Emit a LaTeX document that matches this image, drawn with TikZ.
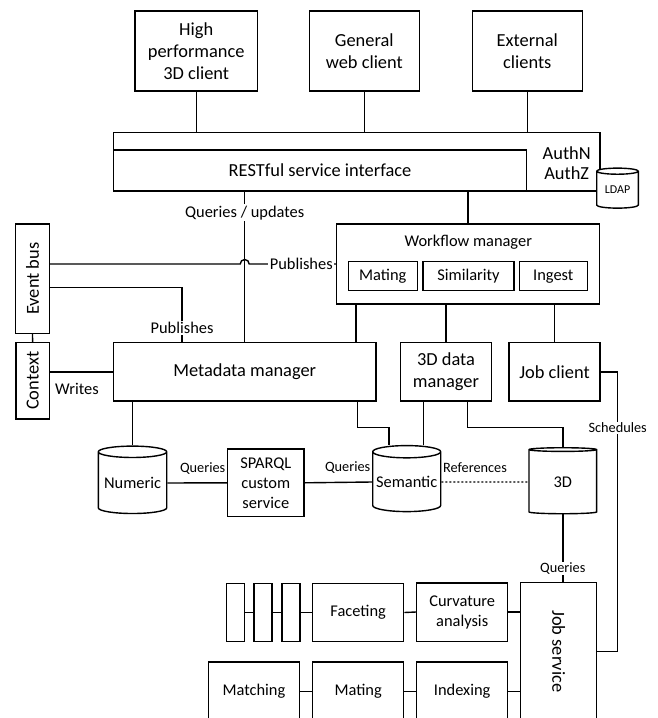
\documentclass[tikz,border=0pt]{standalone}
\usepackage{fontspec}
\setmainfont{Carlito}
\usepackage{tikz}
\usetikzlibrary{%
	calc,%
	shapes.geometric%
}

\newcommand{\sizeL}{\fontsize{18.4}{21.7}\selectfont}
\newcommand{\sizeM}{\fontsize{16.4}{20}\selectfont}
\newcommand{\sizeS}{\fontsize{14.3}{17}\selectfont}
\newcommand{\sizeXS}{\fontsize{12}{14}\selectfont}

\tikzset{
	box/.style={draw, fill=white, inner sep=0pt, align=center, font=\sizeL},
	subbox/.style={box, font=\sizeM},
	store/.style={cylinder, shape border rotate=90, draw, fill=white, inner sep=0pt, aspect=0.2, font=\sizeM},
	tag/.style={fill=white, inner sep=1.5pt, font=\sizeM},
	note/.style={inner sep=1pt, font=\sizeM},
	qtag/.style={inner sep=1pt, font=\sizeS},
}

\begin{document}
\begin{tikzpicture}[x=1pt, y=1pt, line width=1.4pt]
	\useasboundingbox (0,0) rectangle (658,-718);
	\clip (0,0) rectangle (658,-718);

	% Draw the clients
	\node[box, minimum width=122.3, minimum height=80] (hpc) at (196.2,-51) {High\\performance\\3D client};
	\node[box, minimum width=110, minimum height=80] (web) at (364.3,-51) {General\\web client};
	\node[box, minimum width=110, minimum height=80] (ext) at (527.3,-51) {External\\clients};

	% Draw the service interface with auth and LDAP
	\node[box, minimum width=486.7, minimum height=58.7] (auth) at (356.7,-161.7) {};
	\node[box, minimum width=413.3, minimum height=41] (rest) at (320,-170.5) {RESTful service interface};
	\node[align=center, font=\fontsize{18.4}{20}\selectfont] (authn) at (566.7,-163.3) {AuthN\\AuthZ};
	\node[store, font=\sizeXS, minimum width=41.6, minimum height=40, aspect=0.24] (ldap) at (617.5,-190) {LDAP};

	\foreach \c in {hpc,web,ext} {
		\draw (\c.south) -- (\c.south |- auth.north);
	}

	% Draw the workflow manager
	\node[box, font=\sizeM, minimum width=262.6, minimum height=80] (wf) at (468,-264) {};
	\node[font=\sizeM] (wftitle) at (468.3,-242.3) {Workflow manager};
	\node[subbox, minimum width=69, minimum height=29] (wfmate) at (382.8,-276.2) {Mating};
	\node[subbox, minimum width=91, minimum height=29] (wfsim) at (468.5,-276.2) {Similarity};
	\node[subbox, minimum width=68, minimum height=29] (wfingest) at (553.3,-276.2) {Ingest};

	% Draw the managers
	\node[box, minimum width=262.7, minimum height=58.3] (meta) at (244.7,-371.8) {Metadata manager};
	\node[box, minimum width=90.6, minimum height=58.3] (dm3) at (446,-371.8) {3D data\\manager};
	\node[box, minimum width=91, minimum height=58.3] (jobc) at (554.5,-371.8) {Job client};

	\draw (meta.north |- rest.south) -- node[tag, pos=0.14] {Queries / updates} (meta.north);
	\draw (wf.north |- rest.south) -- (wf.north);
	\draw ([xshift=20pt]wf.south west) -- ([xshift=20pt]wf.south west |- meta.north);
	\draw (dm3.north |- wf.south) -- (dm3.north);
	\draw (jobc.north |- wf.south) -- (jobc.north);

	% Draw the event bus and context
	\node[box, minimum width=33.6, minimum height=109.3] (evbus) at (32.5,-278.7) {\rotatebox{90}{Event bus}};
	\node[box, minimum width=33.3, minimum height=76.3] (ctx) at (32.6,-380.8) {\rotatebox{90}{Context}};
	\draw (evbus.south) -- (ctx.north);

	% Line hops over the queries line
	\coordinate (hop) at (meta.north |- wf.west);
	\draw (evbus.east |- wf.west) -- ([xshift=-4.5pt]hop) arc[start angle=180, end angle=0, radius=4.5pt]
		-- node[tag, pos=0.6] {Publishes} (wf.west);
	\draw ([yshift=-9pt]evbus.east) -| node[tag, pos=0.87] {Publishes} ([xshift=69.4pt]meta.north west);
	\draw (ctx.east |- meta.west) -- node[note, below=10pt, pos=0.43] {Writes} (meta.west);

	% Draw the stores
	\node[store, minimum width=68.4, minimum height=67.4] (num) at (132.5,-483) {Numeric};
	\node[box, font=\sizeM, minimum width=76.3, minimum height=67.7] (sparql) at (265.8,-482.8) {SPARQL\\custom\\service};
	\node[store, minimum width=68, minimum height=66] (sem) at (406.7,-482) {Semantic};
	\node[store, minimum width=67.7, minimum height=66] (db3d) at (562.8,-482) {3D};

	\draw (num.north |- meta.south) -- (num.north);
	\draw (num.east) -- node[qtag, pos=1, anchor=south east, yshift=7pt] {Queries} (sparql.west);
	\draw (sparql.east) -- node[qtag, pos=1, anchor=south east, yshift=7pt] {Queries} (sem.west);
	\draw[dash pattern=on 2pt off 2pt] (sem.east) -- node[qtag, pos=0, anchor=south west, yshift=8pt] {References} (db3d.west);
	\draw ([xshift=112.6pt]meta.south) -- ++(0,-25.7) -| ([xshift=-17.7pt]sem.north);
	\draw ([xshift=16.6pt]sem.north |- dm3.south) -- ([xshift=16.6pt]sem.north);
	\draw ([xshift=21.7pt]dm3.south) -- ++(0,-25.7) -| (db3d.north);

	% Draw the job service and its jobs
	\node[box, minimum width=76, minimum height=137.3] (jobs) at (558.7,-651.3) {\rotatebox{-90}{Job service}};
	\draw (db3d.south) -- node[qtag, fill=white, pos=0.8] {Queries} (db3d.south |- jobs.north);
	\draw (jobc.east) -- ++(17,0) |- node[qtag, fill=white, pos=0.1] {Schedules} (jobs.east);

	\foreach \n/\x in {t1/235.2, t2/263, t3/290.8} {
		\node[box, minimum width=18, minimum height=58.4] (\n) at (\x,-612.5) {};
	}
	\node[subbox, minimum width=91, minimum height=58.4] (facet) at (358.2,-612.5) {Faceting};
	\node[subbox, minimum width=91, minimum height=58.4] (curv) at (462.2,-612) {Curvature\\analysis};
	\draw (t1.east) -- (t2.west);
	\draw (t2.east) -- (t3.west);
	\draw (t3.east) -- (facet.west);
	\draw (facet.east) -- (curv.west);
	\draw (curv.east) -- (jobs.west |- curv.east);

	\node[subbox, minimum width=91.4, minimum height=59] (match) at (254,-691.5) {Matching};
	\node[subbox, minimum width=91, minimum height=59] (mating) at (358.2,-691.5) {Mating};
	\node[subbox, minimum width=91, minimum height=59] (index) at (462.2,-691.5) {Indexing};
	\draw (match.east) -- (mating.west);
	\draw (mating.east) -- (index.west);
	\draw (index.east) -- (jobs.west |- index.east);
\end{tikzpicture}
\end{document}
